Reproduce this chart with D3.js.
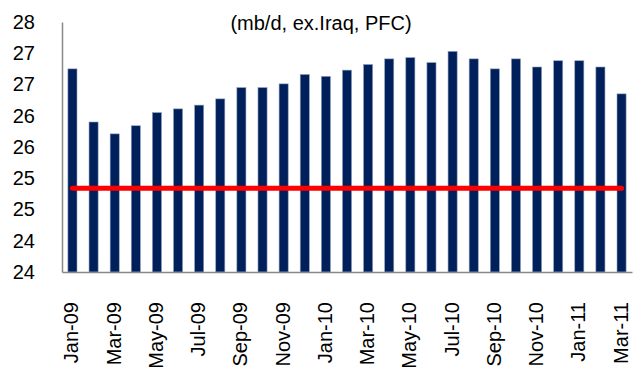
<!DOCTYPE html>
<html>
<head>
<meta charset="utf-8">
<script src="https://cdn.jsdelivr.net/npm/d3@7"></script>
<style>
  body { margin: 0; background: #fff; }
  svg text { font-family: "Liberation Sans", Arial, sans-serif; fill: #000; }
</style>
</head>
<body>
<svg id="chart" width="634" height="372"></svg>
<script>
// Monthly values
const months = ["Jan-09","Feb-09","Mar-09","Apr-09","May-09","Jun-09","Jul-09","Aug-09","Sep-09","Oct-09","Nov-09","Dec-09",
                "Jan-10","Feb-10","Mar-10","Apr-10","May-10","Jun-10","Jul-10","Aug-10","Sep-10","Oct-10","Nov-10","Dec-10",
                "Jan-11","Feb-11","Mar-11"];
const supply = [26.75, 25.90, 25.71, 25.84, 26.05, 26.11, 26.17, 26.27, 26.45, 26.45, 26.51, 26.66,
                26.63, 26.73, 26.82, 26.91, 26.93, 26.85, 27.03, 26.91, 26.75, 26.91, 26.78, 26.88,
                26.88, 26.78, 26.35];
const target = months.map(() => 24.84);
const yTicks = [23.5, 24, 24.5, 25, 25.5, 26, 26.5, 27, 27.5];
const subtitle = "(mb/d, ex.Iraq, PFC)";

const svg = d3.select("#chart");
const margin = {left: 62, right: 2, top: 22, bottom: 100};
const width = 634, height = 372;

const x = d3.scaleBand()
    .domain(months)
    .range([margin.left, width - margin.right])
    .paddingInner(0.57)
    .paddingOuter(0.28);

const y = d3.scaleLinear()
    .domain([23.5, 27.5])
    .range([height - margin.bottom, margin.top]);

// subtitle
svg.append("text")
    .attr("x", 321)
    .attr("y", 30)
    .attr("text-anchor", "middle")
    .style("font-size", "20px")
    .text(subtitle);

// bars
svg.append("g")
    .selectAll("rect")
    .data(supply)
    .enter().append("rect")
    .attr("x", (d, i) => x(months[i]))
    .attr("width", x.bandwidth())
    .attr("y", d => y(d))
    .attr("height", d => y(23.5) - y(d))
    .attr("fill", "#00205c")
    .attr("stroke", "#8e9dbb")
    .attr("stroke-width", 0.6);

// red reference line
const line = d3.line()
    .x((d, i) => x(months[i]) + x.bandwidth() / 2)
    .y(d => y(d));

svg.append("path")
    .datum(target)
    .attr("d", line)
    .attr("fill", "none")
    .attr("stroke", "#ff0000")
    .attr("stroke-width", 5)
    .attr("stroke-linecap", "round");

// y axis
const yAxis = svg.append("g")
    .attr("transform", `translate(${margin.left},0)`)
    .call(d3.axisLeft(y).tickValues(yTicks).tickSize(0).tickPadding(27)
        .tickFormat(d => Math.round(d)));
yAxis.select(".domain").attr("stroke", "#888").attr("stroke-width", 1.5);
yAxis.selectAll("text").style("font-size", "20px")
    .style("font-family", "'Liberation Sans', Arial, sans-serif");

// x axis
const xAxis = svg.append("g")
    .attr("transform", `translate(0,${height - margin.bottom})`)
    .call(d3.axisBottom(x).tickValues(months.filter((m, i) => i % 2 === 0)).tickSize(0).tickSizeOuter(0));
xAxis.select(".domain").attr("stroke", "#888").attr("stroke-width", 1.5);
xAxis.selectAll("text")
    .style("font-size", "20px")
    .style("font-family", "'Liberation Sans', Arial, sans-serif")
    .attr("text-anchor", "end")
    .attr("transform", "rotate(-90)")
    .attr("x", -30)
    .attr("y", -1)
    .attr("dy", "0.35em");
</script>
</body>
</html>
